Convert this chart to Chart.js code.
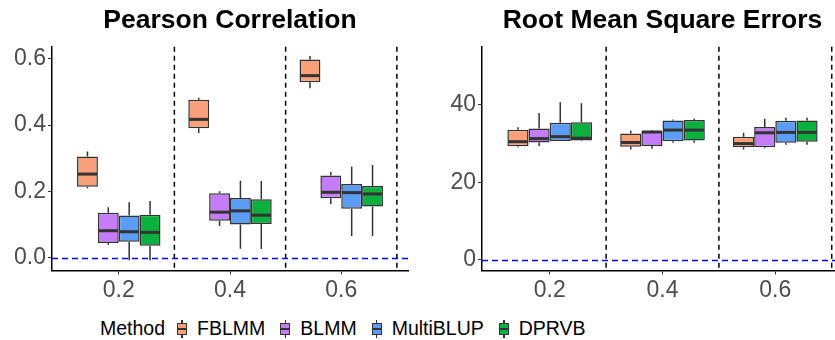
<!DOCTYPE html>
<html>
<head>
<meta charset="utf-8">
<script src="https://cdn.jsdelivr.net/npm/chart.js@4.4.1/dist/chart.umd.min.js"></script>
<style>
  html, body { margin:0; padding:0; background:#fff; width:835px; height:340px; overflow:hidden; position:relative; }
  .wrap { position:absolute; top:0; height:300px; }
  #legend { position:absolute; left:100px; top:318px; display:flex; align-items:center;
    font-family:"Liberation Sans", Arial, sans-serif; font-size:19.5px; line-height:21px; color:#000; white-space:nowrap; }
  .key { position:relative; width:10px; height:20px; margin-right:10px; }
  .key .wh { position:absolute; left:4.25px; top:1px; width:1.5px; height:18px; background:#333; }
  .key .bx { position:absolute; left:0; top:4px; width:10px; height:12px; border:1.5px solid #333; box-sizing:border-box; }
  .key .md { position:absolute; left:0; top:9px; width:10px; height:2px; background:#333; }
  .lab { margin-right:15px; }
</style>
</head>
<body>
<div class="wrap" style="left:0;width:415px;"><canvas id="c1" width="415" height="300"></canvas></div>
<div class="wrap" style="left:415px;width:435px;"><canvas id="c2" width="435" height="300"></canvas></div>
<div id="legend"></div>
<script>
// ---- data ----
const categories = ['0.2', '0.4', '0.6'];
const methods = ['FBLMM', 'BLMM', 'MultiBLUP', 'DPRVB'];
const methodColors = ['#F99F7A', '#C57CF8', '#5B9CF7', '#0AB13E'];

// each entry: [whiskerLow, q1, median, q3, whiskerHigh] for 0.2, 0.4, 0.6
const pearsonFBLMM     = [[0.209, 0.214, 0.252, 0.305, 0.320], [0.376, 0.390, 0.417, 0.476, 0.482], [0.511, 0.529, 0.549, 0.598, 0.608]];
const pearsonBLMM      = [[0.039, 0.044, 0.081, 0.135, 0.152], [0.095, 0.111, 0.137, 0.194, 0.200], [0.162, 0.179, 0.197, 0.248, 0.258]];
const pearsonMultiBLUP = [[-0.008, 0.048, 0.078, 0.127, 0.167], [0.027, 0.100, 0.141, 0.180, 0.232], [0.065, 0.147, 0.196, 0.222, 0.275]];
const pearsonDPRVB     = [[-0.008, 0.036, 0.076, 0.129, 0.171], [0.026, 0.101, 0.128, 0.176, 0.231], [0.065, 0.154, 0.192, 0.216, 0.279]];

const rmseFBLMM     = [[29.1, 29.3, 30.5, 33.6, 34.2], [28.5, 29.2, 30.3, 32.6, 33.3], [28.5, 29.1, 30.0, 31.8, 32.8]];
const rmseBLMM      = [[29.4, 30.3, 31.3, 33.9, 37.9], [28.7, 29.4, 33.0, 33.3, 33.5], [28.8, 29.1, 32.8, 34.3, 36.4]];
const rmseMultiBLUP = [[30.7, 30.7, 31.8, 35.4, 40.7], [30.2, 30.6, 33.5, 36.0, 36.2], [29.7, 30.2, 32.9, 35.9, 36.7]];
const rmseDPRVB     = [[30.7, 30.8, 31.4, 35.5, 40.4], [30.2, 30.8, 33.5, 36.1, 36.4], [29.7, 30.5, 32.9, 36.0, 36.7]];

const pearsonTicks = [0, 0.2, 0.4, 0.6];
const rmseTicks = [0, 20, 40];

// ---- helpers ----
const FONT = '"Liberation Sans", Arial, sans-serif';

function makeDatasets(seriesList) {
  return seriesList.map((series, m) => ({
    label: methods[m],
    data: series.map((s, i) => ({ x: i + 1, y: [s[1], s[3]], stats: s })),
    backgroundColor: methodColors[m],
    borderColor: '#333333',
    borderWidth: 1.5,
    borderSkipped: false,
    categoryPercentage: 0.75,
    barPercentage: 1.0
  }));
}

const boxPlugin = {
  id: 'boxExtras',
  beforeDatasetsDraw(chart) {
    const { ctx, chartArea: a, scales: { x, y } } = chart;
    ctx.save();
    // facet separators
    ctx.strokeStyle = '#000';
    ctx.lineWidth = 1.5;
    ctx.setLineDash([5, 4]);
    [1.5, 2.5, 3.5].forEach(v => {
      const px = x.getPixelForValue(v);
      if (px <= a.right + 1) {
        ctx.beginPath(); ctx.moveTo(px, a.top); ctx.lineTo(px, a.bottom); ctx.stroke();
      }
    });
    // zero reference
    ctx.strokeStyle = '#0000FF';
    ctx.lineWidth = 1.5;
    ctx.setLineDash([6, 4]);
    const y0 = Math.round(y.getPixelForValue(0)) + 0.5;
    ctx.beginPath(); ctx.moveTo(a.left, y0); ctx.lineTo(a.right, y0); ctx.stroke();
    ctx.setLineDash([]);
    // whiskers
    ctx.strokeStyle = '#333';
    ctx.lineWidth = 1.5;
    chart.data.datasets.forEach((ds, di) => {
      const meta = chart.getDatasetMeta(di);
      meta.data.forEach((el, i) => {
        const s = ds.data[i].stats;
        ctx.beginPath();
        ctx.moveTo(el.x, y.getPixelForValue(s[4])); ctx.lineTo(el.x, y.getPixelForValue(s[3]));
        ctx.moveTo(el.x, y.getPixelForValue(s[1])); ctx.lineTo(el.x, y.getPixelForValue(s[0]));
        ctx.stroke();
      });
    });
    ctx.restore();
  },
  afterDatasetsDraw(chart) {
    const { ctx, scales: { y } } = chart;
    ctx.save();
    ctx.strokeStyle = '#333';
    ctx.lineWidth = 3;
    chart.data.datasets.forEach((ds, di) => {
      const meta = chart.getDatasetMeta(di);
      meta.data.forEach((el, i) => {
        const s = ds.data[i].stats;
        const py = y.getPixelForValue(s[2]);
        ctx.beginPath();
        ctx.moveTo(el.x - el.width / 2 + 0.75, py); ctx.lineTo(el.x + el.width / 2 - 0.75, py);
        ctx.stroke();
      });
    });
    ctx.restore();
  }
};

function makeChart(id, title, seriesList, ymin, ymax, yTicks, yFmt, yWidth) {
  return new Chart(document.getElementById(id), {
    type: 'bar',
    data: { datasets: makeDatasets(seriesList) },
    plugins: [boxPlugin],
    options: {
      responsive: false,
      animation: false,
      layout: { padding: { left: 0, right: 7, top: 0, bottom: 0 } },
      plugins: {
        legend: { display: false },
        tooltip: { enabled: false },
        title: {
          display: true, text: title, color: '#000', fullSize: false,
          font: { family: FONT, size: 26.5, weight: 'bold' },
          padding: { top: 5, bottom: 10 }
        }
      },
      scales: {
        x: {
          type: 'linear', min: 0.4, max: 3.6, offset: false,
          afterBuildTicks: s => { s.ticks = categories.map((c, i) => ({ value: i + 1 })); },
          afterFit: s => { s.height = 29.5; },
          ticks: {
            callback: (v) => categories[Math.round(v) - 1],
            color: '#4D4D4D', font: { family: FONT, size: 23 }, padding: 2, maxRotation: 0, autoSkip: false
          },
          grid: { display: true, offset: false, drawOnChartArea: false, drawTicks: true, tickLength: 4, color: '#333' },
          border: { display: true, color: '#000', width: 1.5 }
        },
        y: {
          min: ymin, max: ymax,
          afterBuildTicks: s => { s.ticks = yTicks.map(v => ({ value: v })); },
          afterFit: s => { s.width = yWidth; },
          ticks: {
            callback: yFmt,
            color: '#4D4D4D', font: { family: FONT, size: 23 }, padding: 2
          },
          grid: { display: true, drawOnChartArea: false, drawTicks: true, tickLength: 4, color: '#333' },
          border: { display: true, color: '#000', width: 1.5 }
        }
      }
    }
  });
}

makeChart('c1', 'Pearson Correlation',
  [pearsonFBLMM, pearsonBLMM, pearsonMultiBLUP, pearsonDPRVB],
  -0.039, 0.636, pearsonTicks, v => v.toFixed(1), 52);
makeChart('c2', 'Root Mean Square Errors',
  [rmseFBLMM, rmseBLMM, rmseMultiBLUP, rmseDPRVB],
  -2.75, 55, rmseTicks, v => String(v), 67);

// ---- legend ----
const lg = document.getElementById('legend');
const t = document.createElement('span');
t.textContent = 'Method';
t.style.marginRight = '12px';
lg.appendChild(t);
methods.forEach((m, i) => {
  const k = document.createElement('span');
  k.className = 'key';
  k.innerHTML = '<span class="wh"></span><span class="bx" style="background:' + methodColors[i] + '"></span><span class="md"></span>';
  lg.appendChild(k);
  const l = document.createElement('span');
  l.className = 'lab';
  l.textContent = m;
  lg.appendChild(l);
});
</script>
</body>
</html>
